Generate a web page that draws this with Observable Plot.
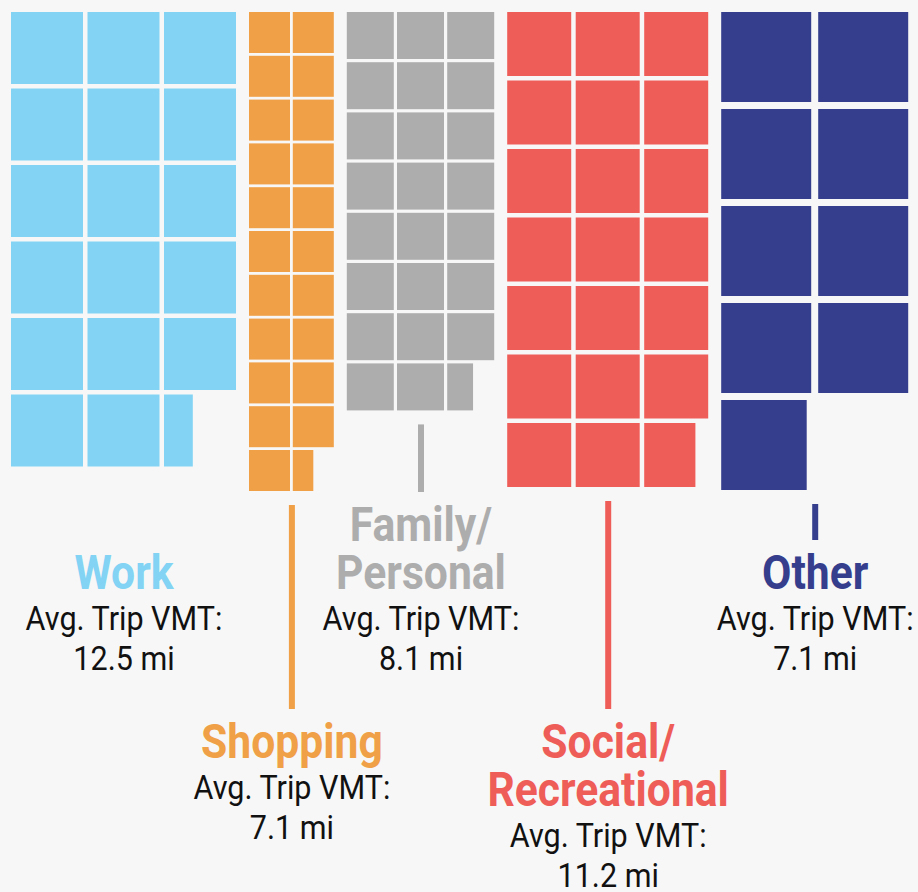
<!DOCTYPE html>
<html><head><meta charset="utf-8">
<script src="https://cdn.jsdelivr.net/npm/d3@7"></script>
<script src="https://cdn.jsdelivr.net/npm/@observablehq/plot@0.6"></script>
<style>
html,body{margin:0;padding:0;background:#f7f7f7;}
#chart svg{display:block;}
</style></head><body><div id="chart"></div>
<script>
// ---- data ----
const categories = ["Work", "Shopping", "Family/Personal", "Social/Recreational", "Other"];
const squares = [17.4, 21.5, 23.55, 20.8, 8.95];
const columns = [3, 2, 3, 3, 2];
const avgTripVMT = [12.5, 7.1, 8.1, 11.2, 7.1];
const colors = ["#82d3f4", "#f0a046", "#adadad", "#ef5d58", "#353e8c"];
const showConnector = [false, true, true, true, true];

// ---- layout ----
const W = 918, H = 892;
const L = {
  left: 11, top: 12, blockGap: 13,
  cell: [72, 41, 47, 64, 90],
  pitch: [76.5, 43.8, 50.2, 68.5, 97],
  upperValueBase: 669, lowerNameBase: 757,
  nameLine: 48, nameToAvg: 41, avgToValue: 40, nameCap: 35,
  nameSize: 49, bodySize: 33, condenseName: 0.87, condenseBody: 0.925
};

const cells = [], blocks = [];
let x0 = L.left;
categories.forEach((c, i) => {
  const n = squares[i], cols = columns[i], cs = L.cell[i], p = L.pitch[i];
  const full = Math.floor(n + 1e-9), frac = n - full;
  let bottom = L.top;
  const total = frac > 1e-6 ? full + 1 : full;
  for (let k = 0; k < total; k++) {
    const row = Math.floor(k / cols), col = k % cols;
    const x1 = x0 + col * p, y1 = L.top + row * p;
    const w = k < full ? cs : frac * cs;
    cells.push({category: c, x1, x2: x1 + w, y1, y2: y1 + cs, color: colors[i]});
    bottom = Math.max(bottom, y1 + cs);
  }
  const right = x0 + (cols - 1) * p + cs;
  blocks.push({category: c, cx: (x0 + right) / 2, bottom, color: colors[i], i});
  x0 = right + L.blockGap;
});

const names = [], bodies = [], connectors = [];
blocks.forEach((b) => {
  const i = b.i;
  const lines = categories[i].split(/(?<=\/)/);
  const upper = i % 2 === 0;
  let nameBases, avgBase, valBase;
  if (upper) {
    valBase = L.upperValueBase;
    avgBase = valBase - L.avgToValue;
    const last = avgBase - L.nameToAvg;
    nameBases = lines.map((_, k) => last - (lines.length - 1 - k) * L.nameLine);
  } else {
    nameBases = lines.map((_, k) => L.lowerNameBase + k * L.nameLine);
    avgBase = nameBases[nameBases.length - 1] + L.nameToAvg;
    valBase = avgBase + L.avgToValue;
  }
  lines.forEach((t, k) => names.push({x: b.cx, y: nameBases[k], text: t, color: b.color}));
  bodies.push({x: b.cx, y: avgBase, text: "Avg. Trip VMT:"});
  bodies.push({x: b.cx, y: valBase, text: `${avgTripVMT[i]} mi`});
  if (showConnector[i]) {
    connectors.push({x: b.cx, y1: b.bottom + 14, y2: nameBases[0] - L.nameCap - 13, color: b.color});
  }
});

const chart = Plot.plot({
  width: W, height: H, margin: 0,
  x: {domain: [0, W], range: [0, W], axis: null},
  y: {domain: [0, H], range: [0, H], axis: null},
  color: {type: "identity"},
  style: {background: "#f7f7f7", fontFamily: "Roboto, sans-serif"},
  marks: [
    Plot.rect(cells, {x1: "x1", x2: "x2", y1: "y1", y2: "y2", fill: "color"}),
    Plot.ruleX(connectors, {x: "x", y1: "y1", y2: "y2", stroke: "color", strokeWidth: 6}),
    Plot.text(names, {x: "x", y: "y", text: "text", fill: "color", fontSize: L.nameSize, fontWeight: 700,
      fontFamily: "Roboto", textAnchor: "middle", lineAnchor: "bottom", className: "cname"}),
    Plot.text(bodies, {x: "x", y: "y", text: "text", fill: "#111", fontSize: L.bodySize, fontWeight: 400,
      fontFamily: "Roboto", textAnchor: "middle", lineAnchor: "bottom", className: "cbody"})
  ]
});
document.getElementById("chart").appendChild(chart);
function condense(sel, f) {
  chart.querySelectorAll(sel + " text").forEach((t) => {
    const len = t.getComputedTextLength();
    if (len > 0) {
      t.setAttribute("textLength", (len * f).toFixed(2));
      t.setAttribute("lengthAdjust", "spacingAndGlyphs");
    }
  });
}
condense(".cname", L.condenseName);
condense(".cbody", L.condenseBody);
</script></body></html>
